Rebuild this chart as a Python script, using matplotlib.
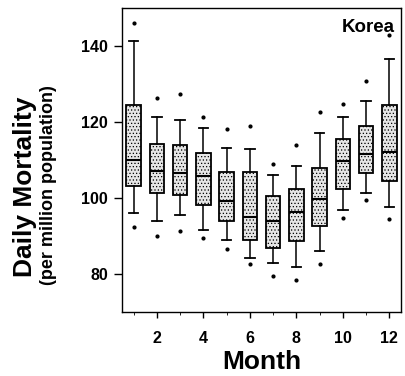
import matplotlib
matplotlib.use("Agg")
import matplotlib.pyplot as plt

plt.rcParams['font.family'] = ['Liberation Sans', 'DejaVu Sans']
plt.rcParams['font.weight'] = 'bold'
plt.rcParams['hatch.color'] = '#8c8c8c'
plt.rcParams['hatch.linewidth'] = 0.5

months = [1, 2, 3, 4, 5, 6, 7, 8, 9, 10, 11, 12]
whis_lo = [96.1, 94.0, 95.4, 91.7, 89.0, 84.3, 82.9, 81.8, 86.1, 96.8, 101.4, 97.7]
q1 = [103.2, 101.4, 100.9, 98.2, 94.0, 89.0, 86.8, 88.8, 92.6, 102.4, 106.5, 104.5]
median = [110.0, 107.1, 106.7, 105.9, 99.3, 95.0, 93.9, 96.3, 99.8, 109.7, 111.6, 112.2]
q3 = [124.4, 114.1, 113.9, 111.8, 106.8, 106.8, 100.4, 102.3, 107.8, 115.4, 119.0, 124.4]
whis_hi = [141.3, 121.4, 120.5, 118.5, 113.2, 113.0, 106.1, 108.4, 117.0, 121.3, 125.6, 136.5]
out_hi = [146.1, 126.2, 127.4, 121.2, 118.1, 119.0, 109.0, 113.9, 122.5, 124.7, 130.8, 142.9]
out_lo = [92.5, 90.0, 91.4, 89.6, 86.7, 82.7, 79.5, 78.4, 82.7, 94.7, 99.6, 94.5]
xticks = [2, 4, 6, 8, 10, 12]
yticks = [80, 100, 120, 140]

fig = plt.figure(figsize=(4.05, 3.76), dpi=100)
ax = fig.add_axes([122/405, 1-312/376, (401-122)/405, (312-8)/376])

stats = []
for i in range(len(months)):
    stats.append(dict(med=median[i], q1=q1[i], q3=q3[i], whislo=whis_lo[i],
                      whishi=whis_hi[i], fliers=[out_lo[i], out_hi[i]]))

ax.bxp(stats, positions=months, widths=0.62, capwidths=0.4, patch_artist=True,
       manage_ticks=False,
       boxprops=dict(facecolor='#e6e6e6', edgecolor='black', linewidth=1.3),
       medianprops=dict(color='black', linewidth=1.5),
       whiskerprops=dict(color='black', linewidth=1.1),
       capprops=dict(color='black', linewidth=1.3),
       flierprops=dict(marker='o', markersize=2, markerfacecolor='black',
                       markeredgecolor='black'))
for p in ax.patches:
    p.set_hatch('.....')

ax.set_xlim(0.5, 12.5)
ax.set_ylim(70, 150)
ax.set_xticks(xticks)
ax.set_xticks(months, minor=True)
ax.set_yticks(yticks)
ax.tick_params(axis='both', direction='out', labelsize=11.5, width=1.0)
ax.tick_params(axis='x', which='major', length=4, pad=10)
ax.tick_params(axis='x', which='minor', length=2.5)
ax.tick_params(axis='y', which='major', length=6, pad=4)
for lab in ax.get_xticklabels() + ax.get_yticklabels():
    lab.set_fontweight('bold')
for s in ax.spines.values():
    s.set_linewidth(1.0)

ax.text(0.978, 0.965, 'Korea', transform=ax.transAxes, ha='right', va='top',
        fontsize=13.5, fontweight='bold')

fig.text(25/405, 1-187/376, 'Daily Mortality', rotation=90, ha='center', va='center',
         fontsize=19, fontweight='bold')
fig.text(49/405, 1-185/376, '(per million population)', rotation=90, ha='center',
         va='center', fontsize=13, fontweight='bold')
fig.text(262/405, 1-362/376, 'Month', ha='center', va='center',
         fontsize=19, fontweight='bold')

fig.savefig('out.png', dpi=100)
